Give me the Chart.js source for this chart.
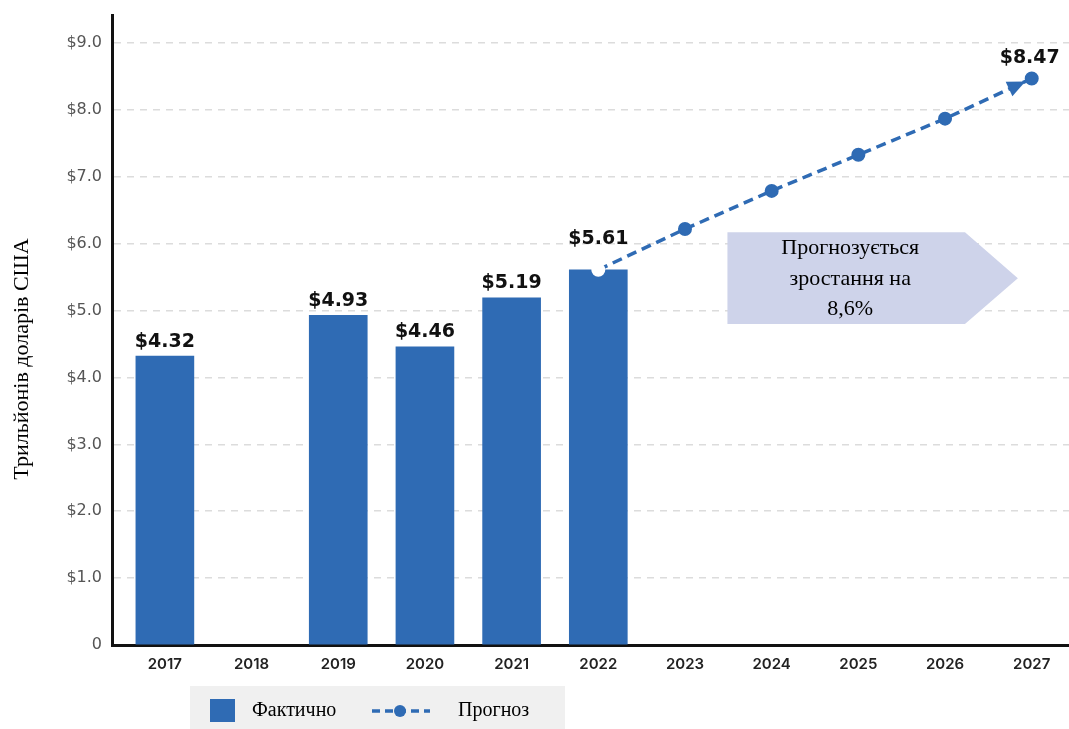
<!DOCTYPE html>
<html>
<head>
<meta charset="utf-8">
<script src="https://cdn.jsdelivr.net/npm/chart.js@4.4.1/dist/chart.umd.min.js"></script>
<style>
  body { margin: 0; background: #fff; }
  #wrap { width: 1069px; height: 729px; position: relative; }
</style>
</head>
<body>
<div id="wrap"><canvas id="chart"></canvas></div>
<script>
// data
const years = [2017, 2018, 2019, 2020, 2021, 2022, 2023, 2024, 2025, 2026, 2027];
const actualYears = [2017, 2019, 2020, 2021, 2022];
const actualValues = [4.32, 4.93, 4.46, 5.19, 5.61];
const forecastYears = [2022, 2023, 2024, 2025, 2026, 2027];
const forecastValues = [5.61, 6.22, 6.79, 7.33, 7.87, 8.47];
const yTicks = [0, 1, 2, 3, 4, 5, 6, 7, 8, 9];
const yTitle = 'Трильйонів доларів США';
const legendLabels = ['Фактично', 'Прогноз'];
const calloutLines = ['Прогнозується', 'зростання на', '8,6%'];

const blue = '#2f6bb4';

// callout arrow box in data units (x: year, y: trillions)
const callout = { x0: 2023.49, x1: 2026.23, tip: 2026.84, yTop: 6.17, yBot: 4.80 };

const labelsPlugin = {
  id: 'labels',
  beforeDatasetsDraw(chart) {
    const { ctx, scales: { x, y } } = chart;
    const l = x.getPixelForValue(callout.x0), r = x.getPixelForValue(callout.x1);
    const t = x.getPixelForValue(callout.tip);
    const top = y.getPixelForValue(callout.yTop), bot = y.getPixelForValue(callout.yBot);
    ctx.save();
    ctx.fillStyle = '#ced3ea';
    ctx.beginPath();
    ctx.moveTo(l, top); ctx.lineTo(r, top); ctx.lineTo(t, (top + bot) / 2);
    ctx.lineTo(r, bot); ctx.lineTo(l, bot); ctx.closePath();
    ctx.fill();
    ctx.fillStyle = '#000';
    ctx.font = '22px "Liberation Serif", serif';
    ctx.textAlign = 'center';
    ctx.textBaseline = 'middle';
    const cx = (l + r) / 2 + 4;
    calloutLines.forEach((s, i) => ctx.fillText(s, cx, top + 16 + i * 30.5));
    ctx.restore();
  },
  afterDatasetsDraw(chart) {
    const { ctx } = chart;
    const bars = chart.getDatasetMeta(0).data;
    const pts = chart.getDatasetMeta(1).data;
    ctx.save();
    // arrow head before last forecast point
    const p1 = pts[pts.length - 2], p2 = pts[pts.length - 1];
    const a = Math.atan2(p2.y - p1.y, p2.x - p1.x);
    const tx = p2.x - 7 * Math.cos(a), ty = p2.y - 7 * Math.sin(a);
    ctx.fillStyle = blue;
    ctx.beginPath();
    ctx.moveTo(tx, ty);
    ctx.lineTo(tx - 18 * Math.cos(a) + 8 * Math.sin(a), ty - 18 * Math.sin(a) - 8 * Math.cos(a));
    ctx.lineTo(tx - 18 * Math.cos(a) - 8 * Math.sin(a), ty - 18 * Math.sin(a) + 8 * Math.cos(a));
    ctx.closePath();
    ctx.fill();

    ctx.fillStyle = '#111';
    ctx.font = 'bold 19px "DejaVu Sans", sans-serif';
    ctx.textAlign = 'center';
    ctx.textBaseline = 'bottom';
    bars.forEach((b, i) => {
      const extra = forecastYears.includes(actualYears[i]) ? 16 : 0;
      ctx.fillText('$' + actualValues[i].toFixed(2), b.x, b.y - 5 - extra);
    });
    const last = forecastValues.length - 1;
    ctx.fillText('$' + forecastValues[last].toFixed(2), p2.x - 2, p2.y - 11);
    ctx.restore();
  },
  afterDraw(chart) {
    const { ctx } = chart;
    ctx.save();
    // y axis title
    ctx.save();
    ctx.translate(22, 359);
    ctx.rotate(-Math.PI / 2);
    ctx.fillStyle = '#000';
    ctx.font = '22px "Liberation Serif", serif';
    ctx.textAlign = 'center';
    ctx.textBaseline = 'middle';
    ctx.fillText(yTitle, 0, 0);
    ctx.restore();
    // legend
    ctx.fillStyle = '#f0f0f0';
    ctx.fillRect(190, 686, 375, 43);
    ctx.fillStyle = blue;
    ctx.fillRect(210, 699, 25, 23);
    ctx.strokeStyle = blue;
    ctx.lineWidth = 3.5;
    ctx.setLineDash([8, 5]);
    ctx.beginPath(); ctx.moveTo(372, 711); ctx.lineTo(430, 711); ctx.stroke();
    ctx.beginPath(); ctx.arc(400, 711, 6, 0, Math.PI * 2); ctx.fill();
    ctx.fillStyle = '#000';
    ctx.font = '20px "Liberation Serif", serif';
    ctx.textBaseline = 'middle';
    ctx.fillText(legendLabels[0], 252, 711);
    ctx.fillText(legendLabels[1], 458, 711);
    ctx.restore();
  }
};

new Chart(document.getElementById('chart'), {
  type: 'bar',
  data: {
    datasets: [{
      label: legendLabels[0],
      data: actualYears.map((yr, i) => ({ x: yr, y: actualValues[i] })),
      backgroundColor: blue,
      barThickness: 58,
      order: 1
    }, {
      type: 'line',
      label: legendLabels[1],
      data: forecastYears.map((yr, i) => ({ x: yr, y: forecastValues[i] })),
      borderColor: blue,
      borderWidth: 3.5,
      borderDash: [10, 6],
      pointRadius: 6,
      pointBorderWidth: 2,
      pointBackgroundColor: forecastYears.map((_, i) => i === 0 ? '#fff' : blue),
      pointBorderColor: forecastYears.map((_, i) => i === 0 ? '#fff' : blue),
      tension: 0,
      order: 0
    }]
  },
  options: {
    responsive: true,
    maintainAspectRatio: false,
    animation: false,
    layout: { autoPadding: false, padding: { top: 15, right: 0, bottom: 46, left: 0 } },
    plugins: { legend: { display: false }, tooltip: { enabled: false } },
    scales: {
      x: {
        type: 'linear',
        offset: false,
        min: 2016.39,
        max: 2027.43,
        afterFit: s => { s.paddingLeft = 0; s.paddingRight = 0; },
        grid: { display: false, drawTicks: false, offset: false },
        border: { color: '#111', width: 3 },
        ticks: {
          stepSize: 1,
          includeBounds: false,
          padding: 10,
          color: '#222',
          font: { family: 'Inter', size: 15, weight: '600' },
          callback: v => years.includes(v) ? String(v) : ''
        }
      },
      y: {
        min: 0,
        max: 9.42,
        afterFit: s => { s.width = 112; s.paddingTop = 0; s.paddingBottom = 0; },
        afterBuildTicks: s => { s.ticks = yTicks.map(v => ({ value: v })); },
        grid: {
          drawTicks: false,
          color: c => c.tick && c.tick.value === 0 ? 'rgba(0,0,0,0)' : '#dcdcdc',
          lineWidth: 1.5
        },
        border: { color: '#111', width: 3, dash: [7, 6] },
        ticks: {
          padding: 10,
          color: '#555',
          font: { family: '"DejaVu Sans"', size: 16 },
          callback: v => v === 0 ? '0' : '$' + v.toFixed(1)
        }
      }
    }
  },
  plugins: [labelsPlugin]
});
</script>
</body>
</html>
